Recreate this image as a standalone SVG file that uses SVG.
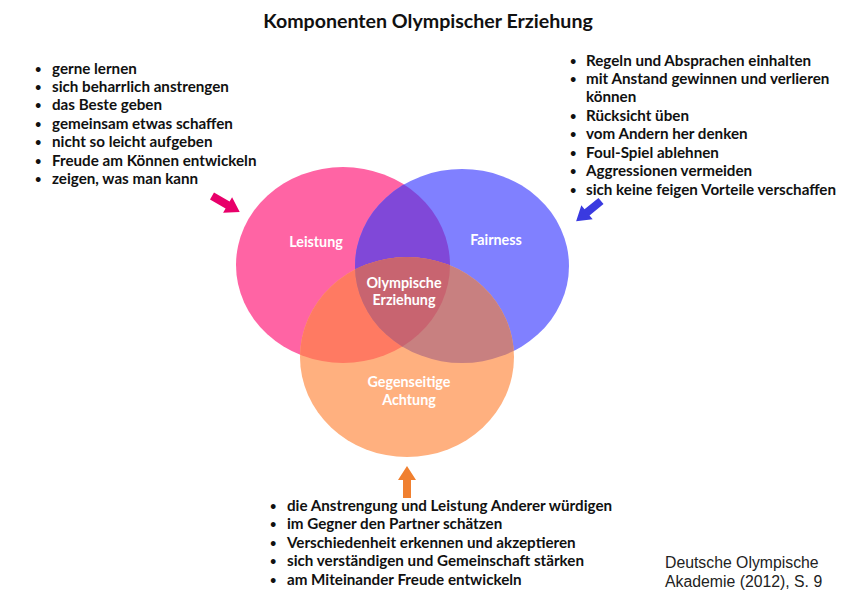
<svg xmlns="http://www.w3.org/2000/svg" xmlns:xlink="http://www.w3.org/1999/xlink" width="842" height="595" viewBox="0 0 842 595">
<style>
.t{font-family:Lato,"Open Sans","Liberation Sans",sans-serif;font-weight:bold;font-size:15.2px;fill:#111}
.b{font-family:Lato,"Open Sans","Liberation Sans",sans-serif;font-weight:bold;font-size:11px;fill:#111}
.title{font-family:Lato,"Open Sans","Liberation Sans",sans-serif;font-weight:bold;font-size:19.6px;fill:#111;text-anchor:middle}
.lbl{font-family:Lato,"Open Sans","Liberation Sans",sans-serif;font-weight:bold;font-size:14.3px;fill:#fff;text-anchor:middle}
.cite{font-family:"Liberation Sans",Arial,sans-serif;font-size:15.8px;fill:#222}
</style>
<defs>
<ellipse id="eP" cx="343" cy="265" rx="107" ry="98"/>
<ellipse id="eB" cx="462" cy="266" rx="107" ry="97"/>
<ellipse id="eO" cx="407" cy="357" rx="107" ry="100"/>
<clipPath id="cP"><use xlink:href="#eP"/></clipPath>
<clipPath id="cB"><use xlink:href="#eB"/></clipPath>
<polygon id="arr" points="0,-4 18,-4 18,-9 32,0 18,9 18,4 0,4"/>
</defs>
<rect width="842" height="595" fill="#fff"/>
<text class="title" x="428" y="28">Komponenten Olympischer Erziehung</text>

<g id="venn">
<use xlink:href="#eP" fill="#FF64A4"/>
<use xlink:href="#eB" fill="#8080FF"/>
<use xlink:href="#eO" fill="#FFB07F"/>
<g clip-path="url(#cP)"><use xlink:href="#eB" fill="#8048D8"/></g>
<g clip-path="url(#cP)"><use xlink:href="#eO" fill="#FF7A62"/></g>
<g clip-path="url(#cB)"><use xlink:href="#eO" fill="#C88080"/></g>
<g clip-path="url(#cP)"><g clip-path="url(#cB)"><use xlink:href="#eO" fill="#C86470"/></g></g>
</g>
<g id="leistung"><text class="lbl" x="316" y="247">Leistung</text></g>
<g id="fairness"><text class="lbl" x="496" y="245">Fairness</text></g>
<g id="olympische"><text class="lbl" x="404" y="288">Olympische</text><text class="lbl" x="404" y="305">Erziehung</text></g>
<g id="achtung"><text class="lbl" x="409" y="387">Gegenseitige</text><text class="lbl" x="409" y="405">Achtung</text></g>

<g id="list-left">
<g class="b"><text x="35" y="73">•</text><text x="35" y="91">•</text><text x="35" y="109">•</text><text x="35" y="128">•</text><text x="35" y="146">•</text><text x="35" y="165">•</text><text x="35" y="183">•</text></g>
<g class="t">
<text x="52" y="74">gerne lernen</text>
<text x="52" y="92">sich beharrlich anstrengen</text>
<text x="52" y="110">das Beste geben</text>
<text x="52" y="129">gemeinsam etwas schaffen</text>
<text x="52" y="147">nicht so leicht aufgeben</text>
<text x="52" y="166">Freude am Können entwickeln</text>
<text x="52" y="184">zeigen, was man kann</text>
</g>
</g>
<g id="list-right">
<g class="b"><text x="570" y="65">•</text><text x="570" y="83">•</text><text x="570" y="120">•</text><text x="570" y="138">•</text><text x="570" y="157">•</text><text x="570" y="175">•</text><text x="570" y="194">•</text></g>
<g class="t">
<text x="586" y="66">Regeln und Absprachen einhalten</text>
<text x="586" y="84">mit Anstand gewinnen und verlieren</text>
<text x="586" y="102">können</text>
<text x="586" y="121">Rücksicht üben</text>
<text x="586" y="139">vom Andern her denken</text>
<text x="586" y="158">Foul-Spiel ablehnen</text>
<text x="586" y="176">Aggressionen vermeiden</text>
<text x="586" y="195">sich keine feigen Vorteile verschaffen</text>
</g>
</g>
<g id="list-bottom">
<g class="b"><text x="270" y="510">•</text><text x="270" y="528">•</text><text x="270" y="547">•</text><text x="270" y="565">•</text><text x="270" y="584">•</text></g>
<g class="t">
<text x="287" y="511">die Anstrengung und Leistung Anderer würdigen</text>
<text x="287" y="529">im Gegner den Partner schätzen</text>
<text x="287" y="548">Verschiedenheit erkennen und akzeptieren</text>
<text x="287" y="566">sich verständigen und Gemeinschaft stärken</text>
<text x="287" y="585">am Miteinander Freude entwickeln</text>
</g>
</g>

<g id="connectors">
<use xlink:href="#arr" fill="#E8006A" transform="translate(212,196) rotate(30)"/>
<use xlink:href="#arr" fill="#3A3AE0" transform="translate(601,201) rotate(141)"/>
<use xlink:href="#arr" fill="#F08030" transform="translate(407,498) rotate(-90)"/>
</g>

<g id="citation" class="cite">
<text x="665" y="568">Deutsche Olympische</text>
<text x="665" y="587">Akademie (2012), S. 9</text>
</g>
</svg>
